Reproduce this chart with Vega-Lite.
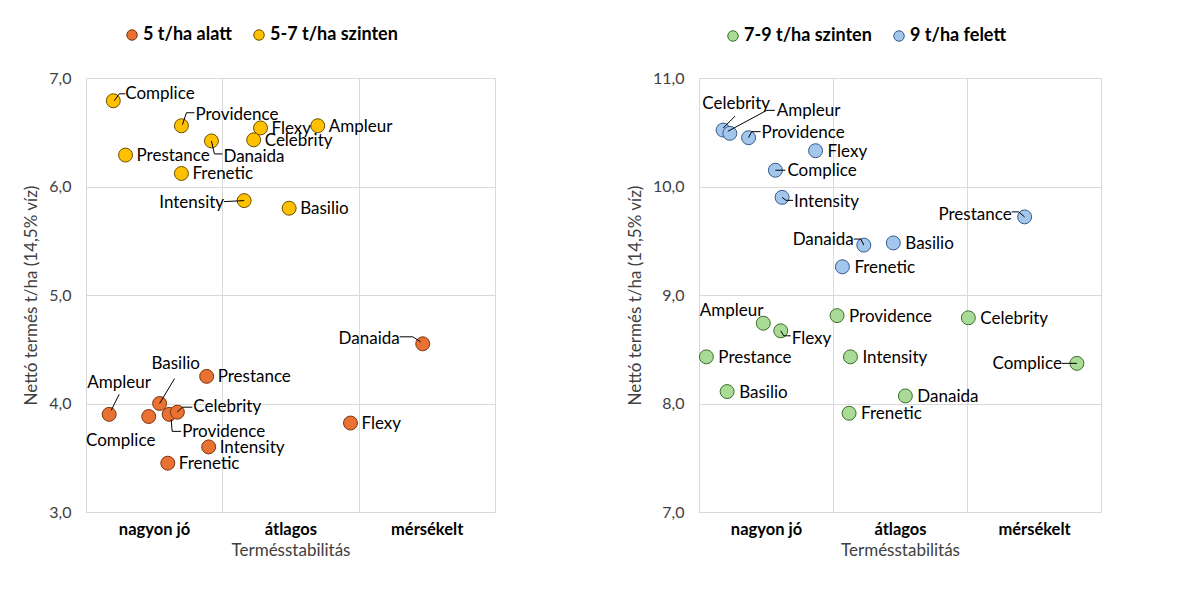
{
"$schema":"https://vega.github.io/schema/vega-lite/v6.json",
"background":"white",
"padding":{"left":22,"top":25,"right":5,"bottom":5},
"spacing":130,
"config":{"view":{"stroke":"#d9d9d9"},"font":"Lato","text":{"font":"Lato","fontSize":17,"color":"#000000","baseline":"middle"},"rule":{"color":"#000000","strokeWidth":1}},
"datasets":{
"a":[
{"series":"5 t/ha alatt","variety":"Ampleur","stability":0.17,"yield":3.90},
{"series":"5 t/ha alatt","variety":"Complice","stability":0.46,"yield":3.88},
{"series":"5 t/ha alatt","variety":"Basilio","stability":0.54,"yield":4.00},
{"series":"5 t/ha alatt","variety":"Providence","stability":0.61,"yield":3.90},
{"series":"5 t/ha alatt","variety":"Celebrity","stability":0.67,"yield":3.92},
{"series":"5 t/ha alatt","variety":"Frenetic","stability":0.60,"yield":3.45},
{"series":"5 t/ha alatt","variety":"Prestance","stability":0.885,"yield":4.25},
{"series":"5 t/ha alatt","variety":"Intensity","stability":0.90,"yield":3.60},
{"series":"5 t/ha alatt","variety":"Flexy","stability":1.94,"yield":3.82},
{"series":"5 t/ha alatt","variety":"Danaida","stability":2.47,"yield":4.55},
{"series":"5-7 t/ha szinten","variety":"Complice","stability":0.20,"yield":6.79},
{"series":"5-7 t/ha szinten","variety":"Providence","stability":0.70,"yield":6.56},
{"series":"5-7 t/ha szinten","variety":"Prestance","stability":0.29,"yield":6.29},
{"series":"5-7 t/ha szinten","variety":"Danaida","stability":0.92,"yield":6.42},
{"series":"5-7 t/ha szinten","variety":"Frenetic","stability":0.70,"yield":6.12},
{"series":"5-7 t/ha szinten","variety":"Flexy","stability":1.28,"yield":6.54},
{"series":"5-7 t/ha szinten","variety":"Celebrity","stability":1.23,"yield":6.43},
{"series":"5-7 t/ha szinten","variety":"Ampleur","stability":1.70,"yield":6.56},
{"series":"5-7 t/ha szinten","variety":"Intensity","stability":1.16,"yield":5.87},
{"series":"5-7 t/ha szinten","variety":"Basilio","stability":1.49,"yield":5.80}
],
"b":[
{"series":"7-9 t/ha szinten","variety":"Ampleur","stability":0.48,"yield":8.74},
{"series":"7-9 t/ha szinten","variety":"Flexy","stability":0.61,"yield":8.67},
{"series":"7-9 t/ha szinten","variety":"Prestance","stability":0.055,"yield":8.43},
{"series":"7-9 t/ha szinten","variety":"Basilio","stability":0.21,"yield":8.11},
{"series":"7-9 t/ha szinten","variety":"Providence","stability":1.03,"yield":8.81},
{"series":"7-9 t/ha szinten","variety":"Intensity","stability":1.13,"yield":8.43},
{"series":"7-9 t/ha szinten","variety":"Frenetic","stability":1.12,"yield":7.91},
{"series":"7-9 t/ha szinten","variety":"Danaida","stability":1.54,"yield":8.07},
{"series":"7-9 t/ha szinten","variety":"Celebrity","stability":2.01,"yield":8.79},
{"series":"7-9 t/ha szinten","variety":"Complice","stability":2.82,"yield":8.37},
{"series":"9 t/ha felett","variety":"Celebrity","stability":0.18,"yield":10.52},
{"series":"9 t/ha felett","variety":"Ampleur","stability":0.23,"yield":10.49},
{"series":"9 t/ha felett","variety":"Providence","stability":0.37,"yield":10.45},
{"series":"9 t/ha felett","variety":"Flexy","stability":0.87,"yield":10.33},
{"series":"9 t/ha felett","variety":"Complice","stability":0.57,"yield":10.15},
{"series":"9 t/ha felett","variety":"Intensity","stability":0.62,"yield":9.90},
{"series":"9 t/ha felett","variety":"Prestance","stability":2.43,"yield":9.72},
{"series":"9 t/ha felett","variety":"Danaida","stability":1.23,"yield":9.46},
{"series":"9 t/ha felett","variety":"Basilio","stability":1.45,"yield":9.48},
{"series":"9 t/ha felett","variety":"Frenetic","stability":1.07,"yield":9.26}
]
},
"resolve":{"scale":{"x":"independent","y":"independent","fill":"independent","stroke":"independent"},"legend":{"fill":"independent","stroke":"independent"}},
"hconcat":[
{
"width":409,"height":434,
"data":{"name":"a"},
"encoding":{
"x":{"field":"stability","type":"quantitative","scale":{"domain":[0,3],"nice":false,"zero":false},
 "axis":{"values":[0,1,2],"labelExpr":"datum.value<0.5?'nagyon jó':datum.value<1.5?'átlagos':'mérsékelt'","labelOffset":68,"labelFlush":false,"labelOverlap":false,"grid":true,"gridColor":"#d9d9d9","domain":false,"ticks":false,"labelFont":"Lato","labelFontSize":16.5,"labelFontWeight":"bold","labelColor":"#000000","labelPadding":9,"title":"Termésstabilitás","titleFont":"Lato","titleFontSize":17,"titleFontWeight":"normal","titleColor":"#404040","titlePadding":5}},
"y":{"field":"yield","type":"quantitative","scale":{"domain":[3,7],"nice":false,"zero":false},
 "axis":{"values":[3,4,5,6,7],"labelExpr":"replace(format(datum.value,'.1f'),'.',',')","grid":true,"gridColor":"#d9d9d9","domain":false,"ticks":false,"labelFont":"Lato","labelFontSize":16,"labelColor":"#404040","labelPadding":15,"title":"Nettó termés t/ha (14,5% víz)","titleFont":"Lato","titleFontSize":17,"titleFontWeight":"normal","titleColor":"#404040","titlePadding":8}}
},
"layer":[
{"mark":{"type":"circle","size":195,"opacity":1,"strokeWidth":1},
 "encoding":{
 "fill":{"field":"series","type":"nominal","scale":{"domain":["5 t/ha alatt","5-7 t/ha szinten"],"range":["#E97132","#FFC000"]},
  "legend":{"orient":"none","legendX":37,"legendY":-52,"direction":"horizontal","title":null,"labelFont":"Lato","labelFontSize":18,"labelFontWeight":"bold","labelColor":"#000000","symbolSize":110,"symbolStrokeWidth":1,"columnPadding":18,"labelOffset":2}},
 "stroke":{"field":"series","type":"nominal","scale":{"domain":["5 t/ha alatt","5-7 t/ha szinten"],"range":["#7a3510","#6b5000"]},
  "legend":{"orient":"none","legendX":37,"legendY":-52,"direction":"horizontal","title":null,"labelFont":"Lato","labelFontSize":18,"labelFontWeight":"bold","labelColor":"#000000","symbolSize":110,"symbolStrokeWidth":1,"columnPadding":18,"labelOffset":2}}
 }},
{"transform":[{"filter":"indexof(['5 t/ha alatt|Frenetic','5 t/ha alatt|Prestance','5 t/ha alatt|Intensity','5 t/ha alatt|Flexy','5-7 t/ha szinten|Prestance','5-7 t/ha szinten|Frenetic','5-7 t/ha szinten|Flexy','5-7 t/ha szinten|Celebrity','5-7 t/ha szinten|Ampleur','5-7 t/ha szinten|Basilio'], datum.series+'|'+datum.variety) >= 0"}],
 "mark":{"type":"text","align":"left","dx":11,"dy":1},"encoding":{"text":{"field":"variety"}}},
{"transform":[{"filter":"datum.series=='5 t/ha alatt' && datum.variety=='Ampleur'"}],"mark":{"type":"text","align":"center","dx":10,"dy":-31},"encoding":{"text":{"field":"variety"}}},
{"transform":[{"filter":"datum.series=='5 t/ha alatt' && datum.variety=='Complice'"}],"mark":{"type":"text","align":"center","dx":-28,"dy":24},"encoding":{"text":{"field":"variety"}}},
{"transform":[{"filter":"datum.series=='5 t/ha alatt' && datum.variety=='Basilio'"}],"mark":{"type":"text","align":"center","dx":16,"dy":-40},"encoding":{"text":{"field":"variety"}}},
{"transform":[{"filter":"datum.series=='5 t/ha alatt' && datum.variety=='Celebrity'"}],"mark":{"type":"text","align":"left","dx":16,"dy":-5},"encoding":{"text":{"field":"variety"}}},
{"transform":[{"filter":"datum.series=='5 t/ha alatt' && datum.variety=='Providence'"}],"mark":{"type":"text","align":"left","dx":13,"dy":18},"encoding":{"text":{"field":"variety"}}},
{"transform":[{"filter":"datum.series=='5 t/ha alatt' && datum.variety=='Danaida'"}],"mark":{"type":"text","align":"right","dx":-23,"dy":-5},"encoding":{"text":{"field":"variety"}}},
{"transform":[{"filter":"datum.series=='5-7 t/ha szinten' && datum.variety=='Complice'"}],"mark":{"type":"text","align":"left","dx":12,"dy":-7},"encoding":{"text":{"field":"variety"}}},
{"transform":[{"filter":"datum.series=='5-7 t/ha szinten' && datum.variety=='Providence'"}],"mark":{"type":"text","align":"left","dx":14,"dy":-11},"encoding":{"text":{"field":"variety"}}},
{"transform":[{"filter":"datum.series=='5-7 t/ha szinten' && datum.variety=='Danaida'"}],"mark":{"type":"text","align":"left","dx":12,"dy":16},"encoding":{"text":{"field":"variety"}}},
{"transform":[{"filter":"datum.series=='5-7 t/ha szinten' && datum.variety=='Intensity'"}],"mark":{"type":"text","align":"right","dx":-20,"dy":2},"encoding":{"text":{"field":"variety"}}},
{"transform":[{"filter":"datum.series=='5 t/ha alatt' && datum.variety=='Ampleur'"}],"mark":{"type":"rule","xOffset":2,"yOffset":-4,"x2Offset":10,"y2Offset":-20},"encoding":{"x2":{"field":"stability"},"y2":{"field":"yield"}}},
{"transform":[{"filter":"datum.series=='5 t/ha alatt' && datum.variety=='Basilio'"}],"mark":{"type":"rule","xOffset":0,"yOffset":0,"x2Offset":15,"y2Offset":-25},"encoding":{"x2":{"field":"stability"},"y2":{"field":"yield"}}},
{"transform":[{"filter":"datum.series=='5 t/ha alatt' && datum.variety=='Celebrity'"}],"mark":{"type":"rule","xOffset":0,"yOffset":0,"x2Offset":5,"y2Offset":-5},"encoding":{"x2":{"field":"stability"},"y2":{"field":"yield"}}},
{"transform":[{"filter":"datum.series=='5 t/ha alatt' && datum.variety=='Celebrity'"}],"mark":{"type":"rule","xOffset":5,"yOffset":-5,"x2Offset":15,"y2Offset":-5},"encoding":{"x2":{"field":"stability"},"y2":{"field":"yield"}}},
{"transform":[{"filter":"datum.series=='5 t/ha alatt' && datum.variety=='Providence'"}],"mark":{"type":"rule","xOffset":2,"yOffset":5,"x2Offset":3,"y2Offset":17},"encoding":{"x2":{"field":"stability"},"y2":{"field":"yield"}}},
{"transform":[{"filter":"datum.series=='5 t/ha alatt' && datum.variety=='Providence'"}],"mark":{"type":"rule","xOffset":3,"yOffset":17,"x2Offset":12,"y2Offset":17},"encoding":{"x2":{"field":"stability"},"y2":{"field":"yield"}}},
{"transform":[{"filter":"datum.series=='5 t/ha alatt' && datum.variety=='Danaida'"}],"mark":{"type":"rule","xOffset":-23,"yOffset":-7,"x2Offset":-10,"y2Offset":-7},"encoding":{"x2":{"field":"stability"},"y2":{"field":"yield"}}},
{"transform":[{"filter":"datum.series=='5 t/ha alatt' && datum.variety=='Danaida'"}],"mark":{"type":"rule","xOffset":-10,"yOffset":-7,"x2Offset":-2,"y2Offset":-2},"encoding":{"x2":{"field":"stability"},"y2":{"field":"yield"}}},
{"transform":[{"filter":"datum.series=='5-7 t/ha szinten' && datum.variety=='Complice'"}],"mark":{"type":"rule","xOffset":1,"yOffset":0,"x2Offset":6,"y2Offset":-7},"encoding":{"x2":{"field":"stability"},"y2":{"field":"yield"}}},
{"transform":[{"filter":"datum.series=='5-7 t/ha szinten' && datum.variety=='Complice'"}],"mark":{"type":"rule","xOffset":6,"yOffset":-7,"x2Offset":12,"y2Offset":-7},"encoding":{"x2":{"field":"stability"},"y2":{"field":"yield"}}},
{"transform":[{"filter":"datum.series=='5-7 t/ha szinten' && datum.variety=='Providence'"}],"mark":{"type":"rule","xOffset":1,"yOffset":-1,"x2Offset":5,"y2Offset":-13},"encoding":{"x2":{"field":"stability"},"y2":{"field":"yield"}}},
{"transform":[{"filter":"datum.series=='5-7 t/ha szinten' && datum.variety=='Providence'"}],"mark":{"type":"rule","xOffset":5,"yOffset":-13,"x2Offset":13,"y2Offset":-13},"encoding":{"x2":{"field":"stability"},"y2":{"field":"yield"}}},
{"transform":[{"filter":"datum.series=='5-7 t/ha szinten' && datum.variety=='Danaida'"}],"mark":{"type":"rule","xOffset":0,"yOffset":0,"x2Offset":3,"y2Offset":13},"encoding":{"x2":{"field":"stability"},"y2":{"field":"yield"}}},
{"transform":[{"filter":"datum.series=='5-7 t/ha szinten' && datum.variety=='Danaida'"}],"mark":{"type":"rule","xOffset":3,"yOffset":13,"x2Offset":11,"y2Offset":13},"encoding":{"x2":{"field":"stability"},"y2":{"field":"yield"}}},
{"transform":[{"filter":"datum.series=='5-7 t/ha szinten' && datum.variety=='Intensity'"}],"mark":{"type":"rule","xOffset":-20,"yOffset":1,"x2Offset":0,"y2Offset":0},"encoding":{"x2":{"field":"stability"},"y2":{"field":"yield"}}}
]
},
{
"width":402,"height":434,
"data":{"name":"b"},
"encoding":{
"x":{"field":"stability","type":"quantitative","scale":{"domain":[0,3],"nice":false,"zero":false},
 "axis":{"values":[0,1,2],"labelExpr":"datum.value<0.5?'nagyon jó':datum.value<1.5?'átlagos':'mérsékelt'","labelOffset":67,"labelFlush":false,"labelOverlap":false,"grid":true,"gridColor":"#d9d9d9","domain":false,"ticks":false,"labelFont":"Lato","labelFontSize":16.5,"labelFontWeight":"bold","labelColor":"#000000","labelPadding":9,"title":"Termésstabilitás","titleFont":"Lato","titleFontSize":17,"titleFontWeight":"normal","titleColor":"#404040","titlePadding":5}},
"y":{"field":"yield","type":"quantitative","scale":{"domain":[7,11],"nice":false,"zero":false},
 "axis":{"values":[7,8,9,10,11],"labelExpr":"replace(format(datum.value,'.1f'),'.',',')","grid":true,"gridColor":"#d9d9d9","domain":false,"ticks":false,"labelFont":"Lato","labelFontSize":16,"labelColor":"#404040","labelPadding":15,"title":"Nettó termés t/ha (14,5% víz)","titleFont":"Lato","titleFontSize":17,"titleFontWeight":"normal","titleColor":"#404040","titlePadding":8}}
},
"layer":[
{"mark":{"type":"circle","size":195,"opacity":1,"strokeWidth":1},
 "encoding":{
 "fill":{"field":"series","type":"nominal","scale":{"domain":["7-9 t/ha szinten","9 t/ha felett"],"range":["#A9DA96","#A3C6EC"]},
  "legend":{"orient":"none","legendX":25,"legendY":-51,"direction":"horizontal","title":null,"labelFont":"Lato","labelFontSize":18,"labelFontWeight":"bold","labelColor":"#000000","symbolSize":110,"symbolStrokeWidth":1,"columnPadding":18,"labelOffset":2}},
 "stroke":{"field":"series","type":"nominal","scale":{"domain":["7-9 t/ha szinten","9 t/ha felett"],"range":["#3b6e2a","#36598a"]},
  "legend":{"orient":"none","legendX":25,"legendY":-51,"direction":"horizontal","title":null,"labelFont":"Lato","labelFontSize":18,"labelFontWeight":"bold","labelColor":"#000000","symbolSize":110,"symbolStrokeWidth":1,"columnPadding":18,"labelOffset":2}}
 }},
{"transform":[{"filter":"indexof(['9 t/ha felett|Flexy','9 t/ha felett|Complice','9 t/ha felett|Basilio','9 t/ha felett|Frenetic','7-9 t/ha szinten|Prestance','7-9 t/ha szinten|Basilio','7-9 t/ha szinten|Providence','7-9 t/ha szinten|Intensity','7-9 t/ha szinten|Frenetic','7-9 t/ha szinten|Danaida','7-9 t/ha szinten|Celebrity'], datum.series+'|'+datum.variety) >= 0"}],
 "mark":{"type":"text","align":"left","dx":12,"dy":1},"encoding":{"text":{"field":"variety"}}},
{"transform":[{"filter":"datum.series=='9 t/ha felett' && datum.variety=='Celebrity'"}],"mark":{"type":"text","align":"center","dx":13,"dy":-26},"encoding":{"text":{"field":"variety"}}},
{"transform":[{"filter":"datum.series=='9 t/ha felett' && datum.variety=='Ampleur'"}],"mark":{"type":"text","align":"left","dx":47,"dy":-22},"encoding":{"text":{"field":"variety"}}},
{"transform":[{"filter":"datum.series=='9 t/ha felett' && datum.variety=='Providence'"}],"mark":{"type":"text","align":"left","dx":13,"dy":-5},"encoding":{"text":{"field":"variety"}}},
{"transform":[{"filter":"datum.series=='9 t/ha felett' && datum.variety=='Intensity'"}],"mark":{"type":"text","align":"left","dx":12,"dy":5},"encoding":{"text":{"field":"variety"}}},
{"transform":[{"filter":"datum.series=='9 t/ha felett' && datum.variety=='Prestance'"}],"mark":{"type":"text","align":"right","dx":-13,"dy":-2},"encoding":{"text":{"field":"variety"}}},
{"transform":[{"filter":"datum.series=='9 t/ha felett' && datum.variety=='Danaida'"}],"mark":{"type":"text","align":"right","dx":-10,"dy":-5},"encoding":{"text":{"field":"variety"}}},
{"transform":[{"filter":"datum.series=='7-9 t/ha szinten' && datum.variety=='Ampleur'"}],"mark":{"type":"text","align":"right","dx":0,"dy":-12},"encoding":{"text":{"field":"variety"}}},
{"transform":[{"filter":"datum.series=='7-9 t/ha szinten' && datum.variety=='Flexy'"}],"mark":{"type":"text","align":"left","dx":11,"dy":8},"encoding":{"text":{"field":"variety"}}},
{"transform":[{"filter":"datum.series=='7-9 t/ha szinten' && datum.variety=='Complice'"}],"mark":{"type":"text","align":"right","dx":-15,"dy":1},"encoding":{"text":{"field":"variety"}}},
{"transform":[{"filter":"datum.series=='9 t/ha felett' && datum.variety=='Celebrity'"}],"mark":{"type":"rule","xOffset":0,"yOffset":-2,"x2Offset":12,"y2Offset":-14},"encoding":{"x2":{"field":"stability"},"y2":{"field":"yield"}}},
{"transform":[{"filter":"datum.series=='9 t/ha felett' && datum.variety=='Ampleur'"}],"mark":{"type":"rule","xOffset":-2,"yOffset":-2,"x2Offset":37,"y2Offset":-23},"encoding":{"x2":{"field":"stability"},"y2":{"field":"yield"}}},
{"transform":[{"filter":"datum.series=='9 t/ha felett' && datum.variety=='Ampleur'"}],"mark":{"type":"rule","xOffset":37,"yOffset":-23,"x2Offset":45,"y2Offset":-23},"encoding":{"x2":{"field":"stability"},"y2":{"field":"yield"}}},
{"transform":[{"filter":"datum.series=='9 t/ha felett' && datum.variety=='Providence'"}],"mark":{"type":"rule","xOffset":0,"yOffset":0,"x2Offset":3,"y2Offset":-6},"encoding":{"x2":{"field":"stability"},"y2":{"field":"yield"}}},
{"transform":[{"filter":"datum.series=='9 t/ha felett' && datum.variety=='Providence'"}],"mark":{"type":"rule","xOffset":3,"yOffset":-6,"x2Offset":12,"y2Offset":-6},"encoding":{"x2":{"field":"stability"},"y2":{"field":"yield"}}},
{"transform":[{"filter":"datum.series=='9 t/ha felett' && datum.variety=='Complice'"}],"mark":{"type":"rule","xOffset":0,"yOffset":0,"x2Offset":10,"y2Offset":0},"encoding":{"x2":{"field":"stability"},"y2":{"field":"yield"}}},
{"transform":[{"filter":"datum.series=='9 t/ha felett' && datum.variety=='Intensity'"}],"mark":{"type":"rule","xOffset":0,"yOffset":0,"x2Offset":4,"y2Offset":3},"encoding":{"x2":{"field":"stability"},"y2":{"field":"yield"}}},
{"transform":[{"filter":"datum.series=='9 t/ha felett' && datum.variety=='Intensity'"}],"mark":{"type":"rule","xOffset":4,"yOffset":3,"x2Offset":11,"y2Offset":3},"encoding":{"x2":{"field":"stability"},"y2":{"field":"yield"}}},
{"transform":[{"filter":"datum.series=='9 t/ha felett' && datum.variety=='Prestance'"}],"mark":{"type":"rule","xOffset":-13,"yOffset":-5,"x2Offset":-6,"y2Offset":-5},"encoding":{"x2":{"field":"stability"},"y2":{"field":"yield"}}},
{"transform":[{"filter":"datum.series=='9 t/ha felett' && datum.variety=='Prestance'"}],"mark":{"type":"rule","xOffset":-6,"yOffset":-5,"x2Offset":0,"y2Offset":0},"encoding":{"x2":{"field":"stability"},"y2":{"field":"yield"}}},
{"transform":[{"filter":"datum.series=='9 t/ha felett' && datum.variety=='Danaida'"}],"mark":{"type":"rule","xOffset":-10,"yOffset":-6,"x2Offset":-3,"y2Offset":-6},"encoding":{"x2":{"field":"stability"},"y2":{"field":"yield"}}},
{"transform":[{"filter":"datum.series=='9 t/ha felett' && datum.variety=='Danaida'"}],"mark":{"type":"rule","xOffset":-3,"yOffset":-6,"x2Offset":0,"y2Offset":0},"encoding":{"x2":{"field":"stability"},"y2":{"field":"yield"}}},
{"transform":[{"filter":"datum.series=='7-9 t/ha szinten' && datum.variety=='Flexy'"}],"mark":{"type":"rule","xOffset":0,"yOffset":0,"x2Offset":3,"y2Offset":5},"encoding":{"x2":{"field":"stability"},"y2":{"field":"yield"}}},
{"transform":[{"filter":"datum.series=='7-9 t/ha szinten' && datum.variety=='Flexy'"}],"mark":{"type":"rule","xOffset":3,"yOffset":5,"x2Offset":10,"y2Offset":5},"encoding":{"x2":{"field":"stability"},"y2":{"field":"yield"}}},
{"transform":[{"filter":"datum.series=='7-9 t/ha szinten' && datum.variety=='Complice'"}],"mark":{"type":"rule","xOffset":-15,"yOffset":0,"x2Offset":0,"y2Offset":0},"encoding":{"x2":{"field":"stability"},"y2":{"field":"yield"}}}
]
}
]
}
